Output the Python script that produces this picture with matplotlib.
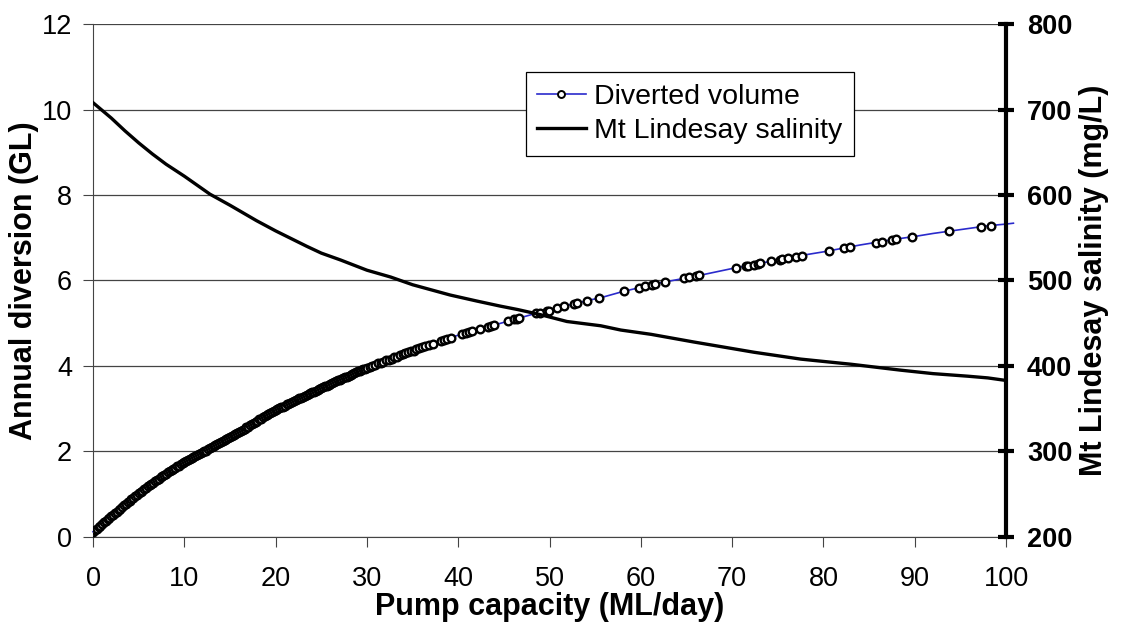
import matplotlib
matplotlib.use("Agg")
import matplotlib.pyplot as plt

plt.rcParams['font.family'] = ['Liberation Sans', 'DejaVu Sans']

# diverted volume curve (GL) vs pump capacity (ML/day)
div_x = [0, 1, 2, 3, 4, 5, 6, 7, 8, 9, 10, 12, 14, 16, 18, 20, 22, 24, 26, 28, 30,
         32, 34, 36, 38, 40, 42, 44, 46, 48, 50, 52, 54, 56, 58, 60, 62, 64, 66,
         68, 70, 72, 74, 76, 78, 80, 82, 84, 86, 88, 90, 92, 94, 96, 98, 100, 100.8]
div_y = [0.12, 0.3, 0.48, 0.66, 0.85, 1.02, 1.18, 1.33, 1.48, 1.62, 1.75, 1.98, 2.22,
         2.45, 2.72, 2.97, 3.18, 3.38, 3.58, 3.77, 3.96, 4.12, 4.28, 4.44, 4.58, 4.72,
         4.84, 4.96, 5.08, 5.2, 5.3, 5.42, 5.52, 5.62, 5.74, 5.84, 5.94, 6.02, 6.1,
         6.19, 6.28, 6.36, 6.44, 6.52, 6.6, 6.67, 6.75, 6.83, 6.9, 6.97, 7.03, 7.1,
         7.16, 7.22, 7.28, 7.32, 7.34]

# individual simulated points
pt_x = [0.0, 0.2, 0.4, 0.6, 0.8, 1.0, 1.2, 1.4, 1.6, 1.8, 2.0, 2.2, 2.4, 2.6, 2.8,
        3.0, 3.2, 3.4, 3.6, 3.8, 4.0, 4.2, 4.4, 4.6, 4.8, 5.0, 5.2, 5.4, 5.6, 5.8,
        6.0, 6.2, 6.4, 6.6, 6.8, 7.0, 7.2, 7.4, 7.6, 7.8, 8.0, 8.2, 8.4, 8.6, 8.8,
        9.0, 9.2, 9.4, 9.6, 9.8, 10.0, 10.2, 10.4, 10.6, 10.8, 11.0, 11.2, 11.4,
        11.6, 11.8, 12.0, 12.2, 12.4, 12.6, 12.8, 13.0, 13.2, 13.4, 13.6, 13.8,
        14.0, 14.2, 14.4, 14.6, 14.8, 15.0, 15.2, 15.4, 15.6, 15.8, 16.0, 16.2,
        16.4, 16.6, 16.8, 17.0, 17.2, 17.4, 17.6, 17.8, 18.0, 18.2, 18.4, 18.6,
        18.8, 19.0, 19.2, 19.4, 19.6, 19.8, 20.0, 20.2, 20.4, 20.6, 20.8, 21.0,
        21.2, 21.4, 21.6, 21.8, 22.0, 22.2, 22.4, 22.6, 22.8, 23.0, 23.2, 23.4,
        23.6, 23.8, 24.0, 24.2, 24.4, 24.6, 24.8, 25.0, 25.2, 25.4, 25.6, 25.8,
        26.0, 26.2, 26.4, 26.6, 26.8, 27.0, 27.2, 27.4, 27.6, 27.8, 28.0, 28.2,
        28.4, 28.6, 28.8, 29.0, 29.2, 29.4, 29.6, 29.8, 30.0, 30.3, 30.6, 30.9,
        31.2, 31.5, 31.8, 32.1, 32.4, 32.7, 33.0, 33.3, 33.6, 33.9, 34.2, 34.5,
        34.8, 35.1, 35.4, 35.7, 36.0, 36.4, 36.8, 37.2,
        38.1, 38.4, 38.8, 39.2, 40.4, 40.8, 41.2, 41.5, 42.4, 43.3,
        43.6, 43.9, 45.4, 46.1, 46.4, 46.7, 48.5, 48.9, 49.7, 49.9, 50.8, 51.6,
        52.7, 53.0, 54.1, 55.4, 58.1, 59.8, 60.5, 61.2, 61.6, 62.6, 64.7, 65.3,
        66.0, 66.4, 70.4, 71.5, 71.7, 72.4, 72.8, 73.1, 74.3, 75.2, 75.5, 76.1,
        77.0, 77.6, 80.6, 82.2, 82.9, 85.7, 86.4, 87.5, 87.9, 89.7, 93.8, 97.3, 98.4]
pt_y = [0.12, 0.16, 0.19, 0.23, 0.26, 0.30, 0.34, 0.37, 0.41, 0.44, 0.48, 0.52, 0.55,
        0.59, 0.62, 0.66, 0.70, 0.74, 0.77, 0.81, 0.85, 0.88, 0.92, 0.95, 0.99, 1.02,
        1.05, 1.08, 1.12, 1.15, 1.18, 1.21, 1.24, 1.27, 1.30, 1.33, 1.36, 1.39, 1.42,
        1.45, 1.48, 1.51, 1.54, 1.56, 1.59, 1.62, 1.65, 1.67, 1.70, 1.72, 1.75, 1.77,
        1.80, 1.82, 1.84, 1.87, 1.89, 1.91, 1.93, 1.96, 1.98, 2.00, 2.02, 2.05, 2.07,
        2.10, 2.12, 2.14, 2.17, 2.19, 2.22, 2.24, 2.26, 2.29, 2.31, 2.33, 2.36, 2.38,
        2.40, 2.43, 2.45, 2.48, 2.50, 2.53, 2.56, 2.58, 2.61, 2.64, 2.67, 2.69, 2.72,
        2.75, 2.77, 2.80, 2.82, 2.85, 2.87, 2.90, 2.92, 2.95, 2.97, 2.99, 3.01, 3.03,
        3.05, 3.07, 3.10, 3.12, 3.14, 3.16, 3.18, 3.20, 3.22, 3.24, 3.26, 3.28, 3.30,
        3.32, 3.34, 3.36, 3.38, 3.40, 3.42, 3.44, 3.46, 3.48, 3.50, 3.52, 3.54, 3.56,
        3.58, 3.60, 3.62, 3.64, 3.66, 3.68, 3.69, 3.71, 3.73, 3.75, 3.77, 3.79, 3.81,
        3.83, 3.85, 3.87, 3.88, 3.90, 3.92, 3.94, 3.96, 3.98, 4.01, 4.03, 4.06, 4.08,
        4.10, 4.13, 4.15, 4.17, 4.20, 4.22, 4.25, 4.27, 4.30, 4.32, 4.34, 4.36, 4.39,
        4.41, 4.44, 4.47, 4.49, 4.52,
        4.58, 4.60, 4.63, 4.66, 4.74, 4.77, 4.79, 4.81, 4.86, 4.92, 4.94, 4.95,
        5.04, 5.09, 5.10, 5.12, 5.23, 5.25, 5.28, 5.29, 5.35, 5.40, 5.46, 5.47, 5.53,
        5.60, 5.75, 5.83, 5.87, 5.90, 5.92, 5.96, 6.05, 6.07, 6.10, 6.12, 6.30, 6.34,
        6.35, 6.37, 6.39, 6.40, 6.45, 6.49, 6.50, 6.52, 6.56, 6.58, 6.69, 6.76, 6.79,
        6.88, 6.91, 6.94, 6.96, 7.02, 7.15, 7.26, 7.28]

# Mt Lindesay salinity (mg/L)
sal_x = [0, 2, 3.5, 5, 6.5, 8, 10, 12.8, 15, 17.9, 20, 23.4, 25, 27.1, 30, 32.6, 35,
         39.1, 42, 44.6, 46.5, 49, 51.9, 55.6, 57.8, 61.1, 65.8, 68, 72.4, 77.5, 83,
         88.5, 92, 95.8, 98, 100]
sal_y = [708, 690, 675, 661, 648, 636, 622, 601, 588, 570, 558, 540, 532, 524, 512, 504,
         495, 483, 476, 470, 466, 460, 452, 447, 442, 437, 428, 424, 416, 408, 402,
         395, 391, 388, 386, 383]

fig = plt.figure(figsize=(11.21, 6.25), dpi=100)
ax = fig.add_axes([0.083, 0.141, 0.8145, 0.8205])
ax2 = ax.twinx()

grey = '#444444'
blue = '#2a2acc'
ax.plot(div_x, div_y, color=blue, lw=1.2, clip_on=False, zorder=2)
ax.plot(pt_x, pt_y, ls='none', marker='o', ms=5.5, mfc='white', mec='black',
        mew=1.7, zorder=3)
ax2.plot(sal_x, sal_y, color='black', lw=2.4)

ax.set_xlim(0, 100)
ax.set_ylim(0, 12)
ax2.set_ylim(200, 800)
ax.set_xticks(range(0, 101, 10))
ax.set_yticks(range(0, 13, 2))
ax2.set_yticks(range(200, 801, 100))

ax.grid(axis='y', color=grey, lw=0.9)
ax.set_axisbelow(True)
for s in ['top', 'right']:
    ax.spines[s].set_visible(False)
for s in ['top', 'left', 'bottom']:
    ax2.spines[s].set_visible(False)
ax.spines['left'].set_color(grey)
ax.spines['bottom'].set_color(grey)
ax2.spines['right'].set_linewidth(3)

ax.tick_params(axis='x', direction='out', length=7, color=grey, pad=14, labelsize=19.5)
ax.tick_params(axis='y', direction='out', length=7, color=grey, pad=8, labelsize=19.5)
ax2.tick_params(axis='y', direction='inout', length=12, width=3, color='black',
                pad=9, labelsize=19.5)
for lab in ax2.get_yticklabels():
    lab.set_fontweight('bold')

ax.set_xlabel('Pump capacity (ML/day)', fontsize=22, fontweight='bold', labelpad=0)
ax.set_ylabel('Annual diversion (GL)', fontsize=22, fontweight='bold', labelpad=2)
ax2.set_ylabel('Mt Lindesay salinity (mg/L)', fontsize=22, fontweight='bold', labelpad=5)

h1 = plt.Line2D([], [], color=blue, lw=1.2, marker='o', ms=5, mfc='white',
                mec='black', mew=1.4)
h2 = plt.Line2D([], [], color='black', lw=2.4)
leg = ax2.legend([h1, h2], ['Diverted volume', 'Mt Lindesay salinity'],
                 loc='upper left', bbox_to_anchor=(0.474, 0.906), fontsize=20.5,
                 frameon=True, fancybox=False, framealpha=1, edgecolor='black',
                 handlelength=1.7, handletextpad=0.3, borderpad=0.4,
                 labelspacing=0.3, borderaxespad=0)
leg.get_frame().set_linewidth(0.9)

fig.savefig('out.png', dpi=100)
